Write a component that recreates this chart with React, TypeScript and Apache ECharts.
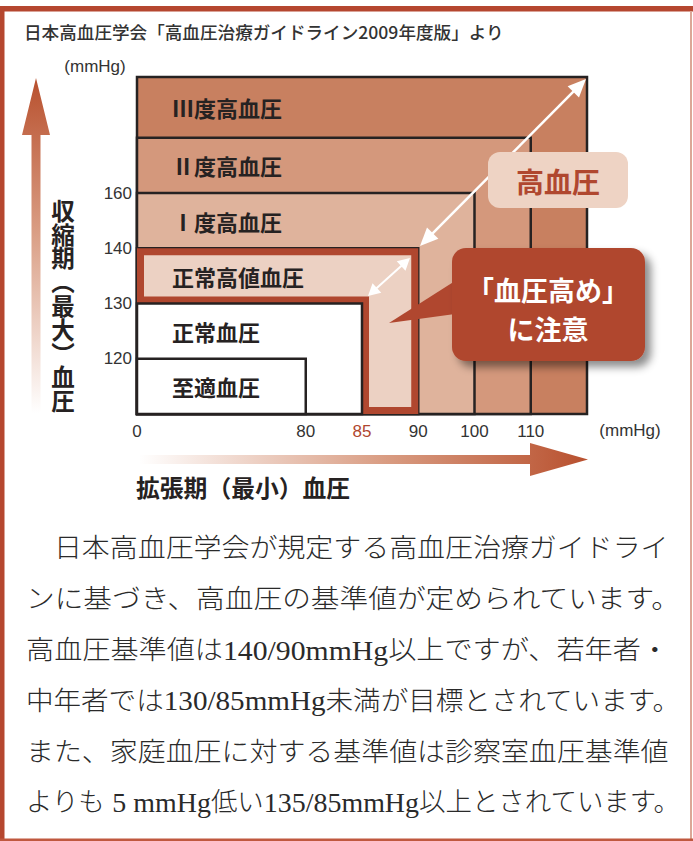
import React, { useEffect, useRef } from 'react';
import * as echarts from 'echarts';

// ---------- data ----------
const titleText = '日本高血圧学会「高血圧治療ガイドライン2009年度版」より';
const zoneNames = ['Ⅲ度高血圧', 'Ⅱ度高血圧', 'Ⅰ度高血圧', '正常高値血圧', '正常血圧', '至適血圧'];
// upper limits of each zone (null = open ended)
const zoneDiastolicUpper: (number | null)[] = [null, 110, 100, 90, 85, 80];
const zoneSystolicUpper: (number | null)[] = [null, 180, 160, 140, 130, 120];
const diastolicTicks = [0, 80, 85, 90, 100, 110];
const systolicBounds = [120, 130, 140, 160, 180];
const systolicLabels = [120, 130, 140, 160];
const highlightDiastolic = 85;
const cautionZone = '正常高値血圧';
const unitText = '(mmHg)';
const yAxisTitle = '収\n縮\n期\n︵\n最\n大\n︶\n血\n圧';
const xAxisTitle = '拡張期（最小）血圧';
const highLabel = '高血圧';
const cautionLines = ['「血圧高め」', 'に注意'];
const paragraphLines = [
  '　日本高血圧学会が規定する高血圧治療ガイドライ',
  'ンに基づき、高血圧の基準値が定められています。',
  '高血圧基準値は{n|140/90mmHg}以上ですが、若年者・',
  '中年者では{n|130/85mmHg}未満が目標とされています。',
  'また、家庭血圧に対する基準値は診察室血圧基準値',
  'よりも{n| 5 mmHg}低い{n|135/85mmHg}以上とされています。',
];

// ---------- styles ----------
const zoneColors = ['#c88060', '#d4987c', '#dfb39c', '#ecd1c3', '#ffffff', '#ffffff'];
const RED = '#b0472f';
const LINE = '#262222';
const TXT = '#262222';
const CJK = "'Noto Sans CJK JP', sans-serif";
const NUMF = "'Liberation Sans Narrow', 'Liberation Sans', sans-serif";
const P_FAMILY = "'Liberation Serif', 'Noto Sans CJK JP', serif";
const P_LATIN = "'Liberation Serif', serif";
const P_SIZE = 26.5;
const P_LATIN_SIZE = 28;

// schematic (broken) axes: each tick occupies one slot
const X_MAX = 8;
const Y_MAX = 6.1;
const xSlotOf = (v: number | null) => (v === null ? X_MAX : v === 0 ? 0 : diastolicTicks.indexOf(v) + 2);
const ySlotOf = (v: number | null) => (v === null ? Y_MAX : systolicBounds.indexOf(v) + 1);

function measureLine(line: string) {
  const ctx = document.createElement('canvas').getContext('2d');
  if (!ctx) return 0;
  let w = 0;
  const re = /\{n\|([^}]*)\}/g;
  let last = 0;
  let m: RegExpExecArray | null;
  const addPlain = (s: string) => {
    if (!s) return;
    ctx.font = `300 ${P_SIZE}px ${P_FAMILY}`;
    w += ctx.measureText(s).width;
  };
  while ((m = re.exec(line))) {
    addPlain(line.slice(last, m.index));
    ctx.font = `normal ${P_LATIN_SIZE}px ${P_LATIN}`;
    w += ctx.measureText(m[1]).width;
    last = m.index + m[0].length;
  }
  addPlain(line.slice(last));
  return w;
}

function doubleArrow(x1: number, y1: number, x2: number, y2: number, headLen: number, headHalf: number, lw: number) {
  const dx = x2 - x1, dy = y2 - y1, L = Math.hypot(dx, dy);
  const ux = dx / L, uy = dy / L, nx = -uy, ny = ux;
  const head = (tx: number, ty: number, dx0: number, dy0: number) => {
    const bx = tx - dx0 * headLen, by = ty - dy0 * headLen;
    return [[tx, ty], [bx + nx * headHalf, by + ny * headHalf], [bx - nx * headHalf, by - ny * headHalf]];
  };
  return [
    { type: 'line', z: 50, shape: { x1: x1 + ux * headLen * 0.8, y1: y1 + uy * headLen * 0.8, x2: x2 - ux * headLen * 0.8, y2: y2 - uy * headLen * 0.8 }, style: { stroke: '#ffffff', lineWidth: lw } },
    { type: 'polygon', z: 50, shape: { points: head(x2, y2, ux, uy) }, style: { fill: '#ffffff' } },
    { type: 'polygon', z: 50, shape: { points: head(x1, y1, -ux, -uy) }, style: { fill: '#ffffff' } },
  ];
}

function txt(text: string, x: number, y: number, size: number, opts: any = {}) {
  return {
    type: 'text', x, y, z: opts.z ?? 60, scaleX: opts.scaleX ?? 1,
    style: {
      text, fontSize: size, fontFamily: opts.family ?? CJK, fontWeight: opts.weight ?? 'normal',
      fill: opts.color ?? TXT, align: opts.align ?? 'left', textAlign: opts.align ?? 'left',
      verticalAlign: 'middle', textVerticalAlign: 'middle', lineHeight: opts.lineHeight, rich: opts.rich,
    },
  };
}

export default function App() {
  const ref = useRef<HTMLDivElement>(null);
  useEffect(() => {
    const chart = echarts.init(ref.current!, null, { renderer: 'svg' });
    const data = zoneNames.map((_, i) => [xSlotOf(zoneDiastolicUpper[i]), ySlotOf(zoneSystolicUpper[i]), i]);

    const graphic: any[] = [
      // frame
      { type: 'rect', shape: { x: 0, y: 6, width: 693, height: 5.5 }, style: { fill: '#b5472f' } },
      { type: 'rect', shape: { x: 0, y: 6, width: 4.5, height: 835 }, style: { fill: '#b5472f' } },
      { type: 'rect', shape: { x: 690, y: 11, width: 2, height: 830 }, style: { fill: '#dba797' } },
      { type: 'rect', shape: { x: 0, y: 838.5, width: 693, height: 2.5 }, style: { fill: '#c0583f' } },
      txt(titleText, 24, 31, 17.6, { weight: 500, color: '#333' }),
      txt(unitText, 95, 66, 17, { align: 'center', family: NUMF, color: '#333' }),
      txt(unitText, 630, 430, 17, { align: 'center', family: NUMF, color: '#333' }),
      // vertical arrow
      {
        type: 'polygon',
        shape: { points: [[31.5, 413], [31.5, 135], [22, 135], [36, 78], [50, 135], [40.5, 135], [40.5, 413]] },
        style: { fill: { type: 'linear', x: 0, y: 0, x2: 0, y2: 1, colorStops: [{ offset: 0, color: '#b8502e' }, { offset: 0.45, color: '#d99c82' }, { offset: 1, color: '#ffffff' }] } },
      },
      txt(yAxisTitle, 63, 305, 23.5, { align: 'center', weight: 'bold', lineHeight: 23.8 }),
      // horizontal arrow
      {
        type: 'polygon',
        shape: { points: [[139, 455], [530, 455], [530, 443], [588, 459.5], [530, 476], [530, 464], [139, 464]] },
        style: { fill: { type: 'linear', x: 0, y: 0, x2: 1, y2: 0, colorStops: [{ offset: 0, color: '#ffffff' }, { offset: 0.55, color: '#d99c82' }, { offset: 1, color: '#b8502e' }] } },
      },
      txt(xAxisTitle, 136, 486, 23.8, { weight: 'bold' }),
      // white arrows
      ...doubleArrow(420, 246, 586, 79, 18, 8, 2.5),
      ...doubleArrow(368, 296, 410, 258, 12, 6.5, 2),
      // 高血圧 label
      { type: 'rect', z: 55, shape: { x: 488, y: 152, width: 140, height: 56, r: 12 }, style: { fill: '#eed3c4' } },
      txt(highLabel, 558, 181, 28, { align: 'center', weight: 'bold', color: RED, z: 56 }),
      // caution callout
      { type: 'polygon', z: 52, shape: { points: [[455, 281], [389, 323], [455, 314]] }, style: { fill: RED } },
      {
        type: 'rect', z: 52, shape: { x: 452, y: 248, width: 193, height: 113, r: 14 },
        style: { fill: RED, shadowBlur: 8, shadowOffsetX: 6, shadowOffsetY: 6, shadowColor: 'rgba(0,0,0,0.45)' },
      },
      txt(cautionLines[0], 548, 289, 27, { align: 'center', weight: 'bold', color: '#ffffff', z: 58 }),
      txt(cautionLines[1], 548, 328, 27, { align: 'center', weight: 'bold', color: '#ffffff', z: 58 }),
    ];
    const lineY = [548, 599, 650, 701, 752, 802];
    const P_LEFT = 26;
    paragraphLines.forEach((l, i) => {
      // justified paragraph: stretch each line to the text block width
      const target = (l.endsWith('。') ? 681 : 669) - P_LEFT;
      const w = measureLine(l);
      const sx = w > 0 ? Math.min(1.12, Math.max(0.9, target / w)) : 1;
      graphic.push(txt(l, P_LEFT, lineY[i], P_SIZE, {
        weight: 300, color: '#2a2a2a', family: P_FAMILY, scaleX: sx,
        rich: { n: { fontFamily: P_LATIN, fontSize: P_LATIN_SIZE, fill: '#2a2a2a', color: '#2a2a2a' } },
      }));
    });

    chart.setOption({
      animation: false,
      backgroundColor: '#ffffff',
      grid: { left: 137, top: 77, width: 450, height: 337 },
      xAxis: {
        type: 'value', min: 0, max: X_MAX, interval: 1,
        axisLine: { show: false }, axisTick: { show: false }, splitLine: { show: false },
        axisLabel: {
          margin: 9, fontSize: 17, fontFamily: NUMF, color: '#333',
          formatter: (v: number) => {
            const t = diastolicTicks.find((d) => xSlotOf(d) === v);
            if (t === undefined) return '';
            return t === highlightDiastolic ? `{hl|${t}}` : String(t);
          },
          rich: { hl: { color: RED, fontSize: 17, fontFamily: NUMF } },
        },
      },
      yAxis: {
        type: 'value', min: 0, max: Y_MAX, interval: 1,
        axisLine: { show: false }, axisTick: { show: false }, splitLine: { show: false },
        axisLabel: {
          margin: 5, fontSize: 17, fontFamily: NUMF, color: '#333',
          formatter: (v: number) => {
            const t = systolicLabels.find((s) => ySlotOf(s) === v);
            return t === undefined ? '' : String(t);
          },
        },
      },
      series: [
        {
          type: 'custom',
          coordinateSystem: 'cartesian2d',
          clip: false,
          data,
          renderItem: (params: any, api: any) => {
            const i = params.dataIndex;
            const xs = api.value(0), ys = api.value(1);
            const o = api.coord([0, 0]);
            const p = api.coord([xs, ys]);
            const children: any[] = [
              { type: 'rect', shape: { x: o[0], y: p[1], width: p[0] - o[0], height: o[1] - p[1] }, style: { fill: zoneColors[i], stroke: LINE, lineWidth: 2.5 } },
            ];
            const nextY = i + 1 < zoneNames.length ? ySlotOf(zoneSystolicUpper[i + 1]) : 0;
            if (zoneNames[i] === cautionZone) {
              const q = api.coord([xSlotOf(zoneDiastolicUpper[i + 1]), nextY]);
              const h = 3.5;
              const pts = [
                [o[0] + h, p[1] + h], [p[0] - h, p[1] + h], [p[0] - h, o[1] - h],
                [q[0] + h, o[1] - h], [q[0] + h, q[1] - h], [o[0] + h, q[1] - h],
              ];
              children.push({ type: 'polygon', shape: { points: pts }, style: { fill: 'none', stroke: RED, lineWidth: 7, lineJoin: 'miter' } });
            }
            const lc = api.coord([0, (ys + nextY) / 2]);
            children.push({
              type: 'text', x: o[0] + 35, y: lc[1],
              style: { text: zoneNames[i], fontSize: 22, fontWeight: 'bold', fontFamily: CJK, fill: TXT, align: 'left', textAlign: 'left', verticalAlign: 'middle', textVerticalAlign: 'middle' },
            });
            return { type: 'group', children };
          },
        },
      ],
      graphic,
    });
    return () => chart.dispose();
  }, []);
  return <div ref={ref} style={{ position: 'absolute', left: 0, top: 0, width: 693, height: 841, background: '#fff' }} />;
}
